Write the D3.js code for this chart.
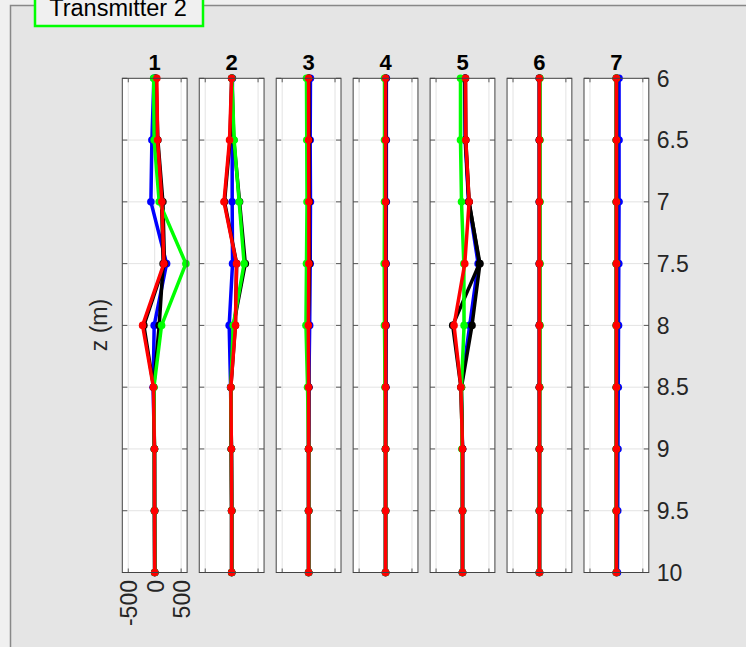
<!DOCTYPE html>
<html><head><meta charset="utf-8">
<script src="https://cdn.jsdelivr.net/npm/d3@7"></script>
<style>body{margin:0;background:#f0f0f0;}svg{display:block;font-family:"Liberation Sans",Arial,Helvetica,sans-serif;}</style>
</head><body>
<svg id="c" width="746" height="647"></svg>
<script>
const title = "Transmitter 2";
const panels = ["1","2","3","4","5","6","7"];
const depths = [6, 6.5, 7, 7.5, 8, 8.5, 9, 9.5, 10];
const yTicks = [6, 6.5, 7, 7.5, 8, 8.5, 9, 9.5, 10];
const xTicks = [-500, 0, 500];
const xTickLabels = ["-500", "0", "500"];
const yLabel = "z (m)";
// drawing order: blue, black B, black A, green, red
const seriesColors = ["#0000ff", "#000000", "#000000", "#00ff00", "#ff0000"];
// values per panel (rows) at each depth (columns)
const blueVals = [
  [-15, -53, -72, 225, -10, -30, -5, -3, 0],
  [15, 10, 10, 17, -47, -20, -5, 0, 0],
  [35, 30, 35, 30, 20, 5, 0, 0, 0],
  [15, 15, 15, 10, 10, 5, 0, 0, 0],
  [45, 50, 115, 296, 136, -25, 0, 0, 0],
  [0, 0, 0, 0, 0, 0, 0, 0, 0],
  [50, 50, 50, 45, 40, 35, 30, 25, 20]
];
const blackBVals = [
  [10, 40, 130, 160, 85, -20, -5, -3, 0],
  [5, 40, 150, 258, 35, -15, -5, 0, 0],
  [0, 5, 10, 15, -10, 0, 0, 0, 0],
  [0, 0, 0, 0, 0, 0, 0, 0, 0],
  [50, 56, 120, 330, 180, -20, 0, 0, 0],
  [0, 0, 0, 0, 0, 0, 0, 0, 0],
  [0, 0, 0, 0, 0, 0, 0, 0, 0]
];
const blackAVals = [
  [25, 60, 155, 185, -205, -20, -5, -3, 0],
  [0, -30, -135, 95, 70, -15, -5, 0, 0],
  [0, 5, 10, 15, -10, 0, 0, 0, 0],
  [0, 0, 0, 0, 0, 0, 0, 0, 0],
  [55, 62, 125, 320, -185, -30, 0, 0, 0],
  [0, 0, 0, 0, 0, 0, 0, 0, 0],
  [0, 0, 0, 0, 0, 0, 0, 0, 0]
];
const greenVals = [
  [-20, -10, 85, 590, 130, -15, -5, -3, 0],
  [5, 47, 142, 236, 30, -15, -5, 0, 0],
  [-40, -35, -30, -40, -50, -20, 0, 0, 0],
  [-20, -20, -20, -25, -20, -10, 0, 0, 0],
  [-38, -38, -19, 25, 30, -20, -10, 0, 0],
  [10, 10, 10, 10, 10, 5, 0, 0, 0],
  [0, 0, 0, 0, 0, 0, 0, 0, 0]
];
const redVals = [
  [40, 55, 136, 174, -229, -25, -5, -3, 0],
  [0, -40, -145, 92, 73, -15, -5, 0, 0],
  [0, 0, 5, 5, -5, 0, 0, 0, 0],
  [0, 0, 0, 0, 0, 0, 0, 0, 0],
  [57, 62, 125, 43, -160, -30, 0, 0, 0],
  [0, 0, 0, 0, 0, 0, 0, 0, 0],
  [0, 0, 0, 0, 0, 0, 0, 0, 0]
];
const allSeries = [blueVals, blackBVals, blackAVals, greenVals, redVals];

const svg = d3.select("#c");
svg.append("rect").attr("x",0).attr("y",0).attr("width",746).attr("height",647).attr("fill","#f0f0f0");
svg.append("rect").attr("x",10.5).attr("y",5.5).attr("width",760).attr("height",700)
  .attr("fill","#e5e5e5").attr("stroke","#888").attr("stroke-width",1.5);
svg.append("rect").attr("x",35).attr("y",-10).attr("width",168).attr("height",36)
  .attr("fill","#f0f0f0").attr("stroke","#00ff00").attr("stroke-width",2.5);
svg.append("text").attr("x",118).attr("y",16).attr("text-anchor","middle")
  .attr("font-size",23.5).attr("fill","#000").text(title);

const left0 = 122.3, step = 76.95, pw = 64.8, pTop = 78.3, pBottom = 572.5;
const y = d3.scaleLinear().domain([6,10]).range([pTop,pBottom]);

panels.forEach((name, i) => {
  const x0 = left0 + i*step;
  const x = d3.scaleLinear().domain([-613,613]).range([x0, x0+pw]);
  const g = svg.append("g");
  g.append("rect").attr("x",x0).attr("y",pTop).attr("width",pw).attr("height",pBottom-pTop).attr("fill","#fff");
  g.selectAll(null).data(xTicks).join("line")
    .attr("x1",d=>x(d)).attr("x2",d=>x(d)).attr("y1",pTop).attr("y2",pBottom)
    .attr("stroke","#e3e3e3").attr("stroke-width",1);
  g.selectAll(null).data(yTicks).join("line")
    .attr("x1",x0).attr("x2",x0+pw).attr("y1",d=>y(d)).attr("y2",d=>y(d))
    .attr("stroke","#e3e3e3").attr("stroke-width",1);
  const tk = "#333";
  g.selectAll(null).data(yTicks).join("line")
    .attr("x1",x0).attr("x2",x0+5).attr("y1",d=>y(d)).attr("y2",d=>y(d)).attr("stroke",tk).attr("stroke-width",0.8);
  g.selectAll(null).data(yTicks).join("line")
    .attr("x1",x0+pw-5).attr("x2",x0+pw).attr("y1",d=>y(d)).attr("y2",d=>y(d)).attr("stroke",tk).attr("stroke-width",0.8);
  g.selectAll(null).data(xTicks).join("line")
    .attr("x1",d=>x(d)).attr("x2",d=>x(d)).attr("y1",pTop).attr("y2",pTop+4).attr("stroke",tk).attr("stroke-width",0.8);
  g.selectAll(null).data(xTicks).join("line")
    .attr("x1",d=>x(d)).attr("x2",d=>x(d)).attr("y1",pBottom-4).attr("y2",pBottom).attr("stroke",tk).attr("stroke-width",0.8);
  allSeries.forEach((s, k) => {
    const pts = depths.map((z, j) => [s[i][j], z]);
    g.append("path").datum(pts)
      .attr("d", d3.line().x(d=>x(d[0])).y(d=>y(d[1])))
      .attr("fill","none").attr("stroke",seriesColors[k]).attr("stroke-width",3.5).attr("stroke-linejoin","round");
    g.selectAll(null).data(pts).join("circle")
      .attr("cx",d=>x(d[0])).attr("cy",d=>y(d[1])).attr("r",3.8).attr("fill",seriesColors[k]);
  });
  g.append("rect").attr("x",x0).attr("y",pTop).attr("width",pw).attr("height",pBottom-pTop)
    .attr("fill","none").attr("stroke","#444").attr("stroke-width",1);
  g.append("text").attr("x",x0+pw/2).attr("y",70).attr("text-anchor","middle")
    .attr("font-size",22).attr("font-weight","bold").text(name);
  if (i === 0) {
    xTicks.forEach((t, j) => {
      g.append("text").attr("transform",`translate(${x(t)+9},580) rotate(-90)`)
        .attr("text-anchor","end").attr("font-size",23).attr("fill","#262626").text(xTickLabels[j]);
    });
  }
  if (i === panels.length-1) {
    g.selectAll(null).data(yTicks).join("text")
      .attr("x",x0+pw+8).attr("y",d=>y(d)).attr("dy","0.36em")
      .attr("font-size",23).attr("fill","#262626").text(d=>d);
  }
});
svg.append("text").attr("transform",`translate(107,325) rotate(-90)`).attr("text-anchor","middle")
  .attr("font-size",23).attr("fill","#262626").text(yLabel);
</script>
</body></html>
